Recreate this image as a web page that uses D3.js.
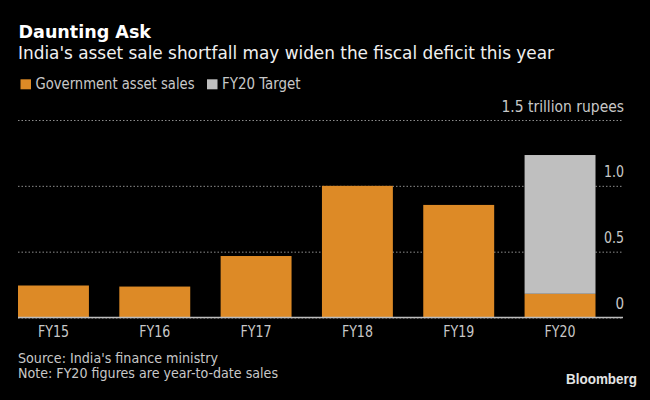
<!DOCTYPE html>
<html>
<head>
<meta charset="utf-8">
<script src="https://cdn.jsdelivr.net/npm/d3@7/dist/d3.min.js"></script>
<style>
  html, body { margin: 0; padding: 0; background: #000; }
  svg { display: block; }
  text { font-family: "DejaVu Sans", sans-serif; font-stretch: condensed; }
</style>
</head>
<body>
<script>
const categories = ["FY15", "FY16", "FY17", "FY18", "FY19", "FY20"];
const assetSales = [0.243, 0.235, 0.467, 1.0, 0.855, 0.18];
const fy20Target = [0, 0, 0, 0, 0, 1.054];
const yTicks = [0, 0.5, 1.0, 1.5];
const yTickLabels = ["0", "0.5", "1.0", "1.5 trillion rupees"];
const seriesNames = ["Government asset sales", "FY20 Target"];
const seriesColors = ["#dd8a26", "#bfbfbf"];

const width = 650;
const height = 400;
const margin = { left: 18, right: 27, top: 120, bottom: 82.5 };
const barsRight = 595.5;

const svg = d3.select("body").append("svg")
  .attr("width", width)
  .attr("height", height);

// fits a label to the width it has in the picture
function fit(sel, len) {
  return sel.attr("textLength", len).attr("lengthAdjust", "spacingAndGlyphs");
}

// Scales
const xscale = d3.scaleBand()
  .domain(categories)
  .range([margin.left, barsRight])
  .paddingInner(0.3)
  .paddingOuter(0);
const yscale = d3.scaleLinear()
  .domain([0, 1.5])
  .range([height - margin.bottom, margin.top]);

// Gridlines and right hand labels
const yaxis = d3.axisRight(yscale)
  .tickValues(yTicks)
  .tickSize(width - margin.left - margin.right)
  .tickFormat((d, i) => yTickLabels[i]);
const g_yaxis = svg.append("g")
  .attr("transform", `translate(${margin.left},0)`)
  .call(yaxis);
g_yaxis.select(".domain").remove();
g_yaxis.selectAll(".tick line")
  .attr("stroke", "#8c8c8c")
  .attr("stroke-width", 1)
  .attr("stroke-dasharray", "1.5 2");
g_yaxis.selectAll(".tick text")
  .attr("x", width - margin.left - margin.right + 1)
  .attr("y", -9)
  .attr("dy", 0)
  .attr("text-anchor", "end")
  .attr("fill", "#c8c8c8")
  .attr("font-size", 15);
fit(g_yaxis.selectAll(".tick text").filter((d) => d === 1.5), 122.5);
fit(g_yaxis.selectAll(".tick text").filter((d) => d === 1 || d === 0.5), 20);

// Stacked bars
const stack = d3.stack().keys([0, 1]).value((i, k) => [assetSales, fy20Target][k][i]);
const layers = stack(categories.map((d, i) => i));
svg.append("g").selectAll("g")
  .data(layers)
  .join("g")
  .attr("fill", (d, i) => seriesColors[i])
  .selectAll("rect")
  .data((d) => d.map((p, i) => ({ p, cat: categories[i] })).filter((d) => d.p[1] > d.p[0]))
  .join("rect")
  .attr("x", (d) => xscale(d.cat))
  .attr("width", xscale.bandwidth())
  .attr("y", (d) => yscale(d.p[1]))
  .attr("height", (d) => yscale(d.p[0]) - yscale(d.p[1]));

// Axis line goes on top of the bars
svg.append("line")
  .attr("x1", margin.left)
  .attr("x2", width - margin.right)
  .attr("y1", yscale(0))
  .attr("y2", yscale(0))
  .attr("stroke", "#bdbdbd")
  .attr("stroke-width", 1.5);

// X labels
const xaxis = d3.axisBottom(xscale).tickSize(0).tickPadding(0);
const g_xaxis = svg.append("g")
  .attr("transform", `translate(0,${yscale(0)})`)
  .call(xaxis);
g_xaxis.select(".domain").remove();
g_xaxis.selectAll("text")
  .attr("y", 19.5)
  .attr("dy", 0)
  .attr("fill", "#c8c8c8")
  .attr("font-size", 15);
fit(g_xaxis.selectAll("text"), 31);

// Title block
fit(svg.append("text").attr("x", 18.5).attr("y", 37.7)
  .attr("fill", "#fff").attr("font-size", 17.5).attr("font-weight", 700)
  .text("Daunting Ask"), 132.5);
fit(svg.append("text").attr("x", 18).attr("y", 59.3)
  .attr("fill", "#f0f0f0").attr("font-size", 18.5)
  .text("India's asset sale shortfall may widen the fiscal deficit this year"), 536);

// Legend
const legendX = [20.5, 207];
const legendLen = [159, 78.5];
const legend = svg.append("g").selectAll("g")
  .data(seriesNames)
  .join("g")
  .attr("transform", (d, i) => `translate(${legendX[i]},79.3)`);
legend.append("rect")
  .attr("width", 10.5)
  .attr("height", 10)
  .attr("fill", (d, i) => seriesColors[i]);
legend.append("text")
  .attr("x", 15)
  .attr("y", 10)
  .attr("fill", "#c8c8c8")
  .attr("font-size", 15)
  .attr("textLength", (d, i) => legendLen[i])
  .attr("lengthAdjust", "spacingAndGlyphs")
  .text((d) => d);

// Footer
fit(svg.append("text").attr("x", 18).attr("y", 363)
  .attr("fill", "#c8c8c8").attr("font-size", 14)
  .text("Source: India's finance ministry"), 200);
fit(svg.append("text").attr("x", 18).attr("y", 378)
  .attr("fill", "#c8c8c8").attr("font-size", 14)
  .text("Note: FY20 figures are year-to-date sales"), 260);
fit(svg.append("text").attr("x", 566).attr("y", 384)
  .attr("fill", "#e4e4e4").attr("font-size", 14.5).attr("font-weight", 700)
  .style("font-family", "'Liberation Sans', sans-serif")
  .text("Bloomberg"), 71);
</script>
</body>
</html>
